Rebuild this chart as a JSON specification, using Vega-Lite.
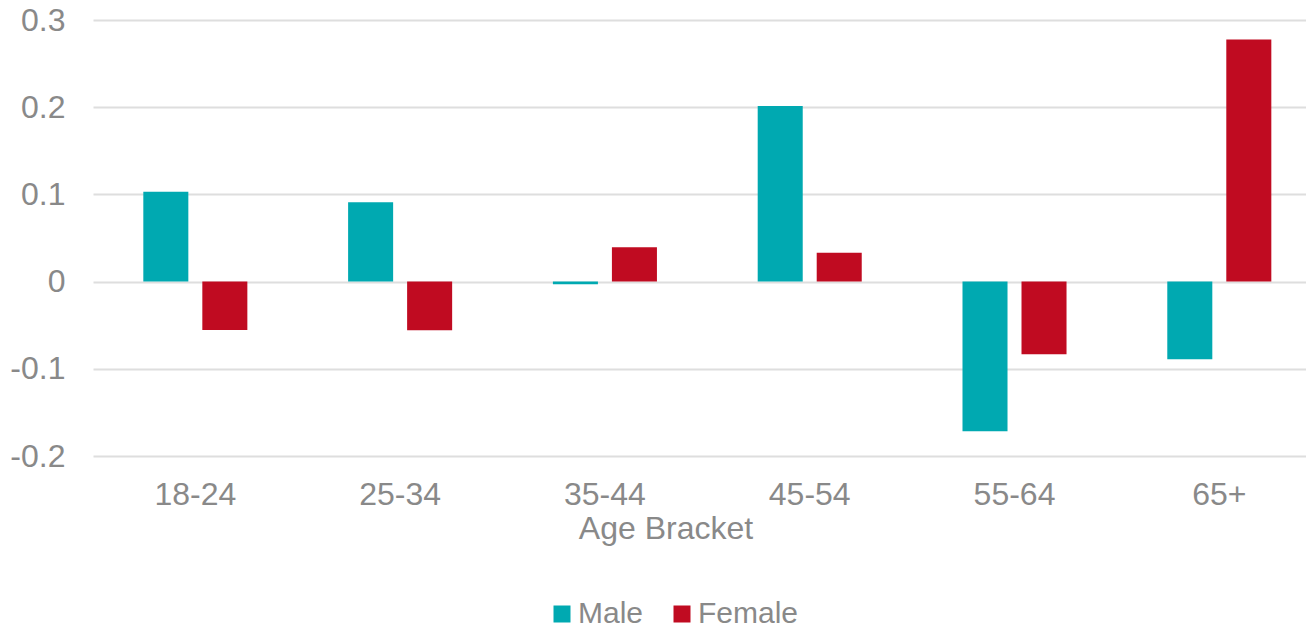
{
  "$schema": "https://vega.github.io/schema/vega-lite/v6.json",
  "width": 1213,
  "height": 436,
  "autosize": "none",
  "padding": {"left": 93, "top": 20, "right": 0, "bottom": 173},
  "background": "white",
  "config": {
    "font": "Liberation Sans",
    "view": {"stroke": null}
  },
  "data": {
    "values": [
      {"age": "18-24", "gender": "Male", "value": 0.103},
      {"age": "18-24", "gender": "Female", "value": -0.0555},
      {"age": "25-34", "gender": "Male", "value": 0.091},
      {"age": "25-34", "gender": "Female", "value": -0.0557},
      {"age": "35-44", "gender": "Male", "value": -0.003},
      {"age": "35-44", "gender": "Female", "value": 0.0395},
      {"age": "45-54", "gender": "Male", "value": 0.2015},
      {"age": "45-54", "gender": "Female", "value": 0.033},
      {"age": "55-64", "gender": "Male", "value": -0.1716},
      {"age": "55-64", "gender": "Female", "value": -0.0833},
      {"age": "65+", "gender": "Male", "value": -0.089},
      {"age": "65+", "gender": "Female", "value": 0.2775}
    ]
  },
  "mark": {"type": "bar"},
  "encoding": {
    "x": {
      "field": "age",
      "type": "nominal",
      "sort": ["18-24", "25-34", "35-44", "45-54", "55-64", "65+"],
      "scale": {"paddingInner": 0.492, "paddingOuter": 0.2075, "align": 0.592, "round": false},
      "axis": {
        "title": "Age Bracket",
        "labelAngle": 0,
        "labelFontSize": 32,
        "labelColor": "#898989",
        "labelPadding": 23,
        "ticks": false,
        "tickSize": 0,
        "domain": false,
        "titleFontSize": 32,
        "titleFontWeight": "normal",
        "titleColor": "#898989",
        "titleX": 572.5,
        "titleY": 82.6,
        "titleAlign": "center",
        "titleBaseline": "alphabetic"
      }
    },
    "xOffset": {
      "field": "gender",
      "type": "nominal",
      "sort": ["Male", "Female"],
      "scale": {"paddingInner": 0.237, "paddingOuter": 0}
    },
    "y": {
      "field": "value",
      "type": "quantitative",
      "scale": {"domain": [-0.2, 0.3], "nice": false, "zero": false},
      "axis": {
        "title": null,
        "values": [-0.2, -0.1, 0, 0.1, 0.2, 0.3],
        "labelExpr": "datum.value < 0 ? '-' + format(-datum.value, '~g') : format(datum.value, '~g')",
        "labelFontSize": 32,
        "labelColor": "#898989",
        "labelPadding": 28,
        "ticks": false,
        "tickSize": 0,
        "domain": false,
        "grid": true,
        "gridColor": "#dedede",
        "gridWidth": 2
      }
    },
    "color": {
      "field": "gender",
      "type": "nominal",
      "sort": ["Male", "Female"],
      "scale": {"domain": ["Male", "Female"], "range": ["#00a9b1", "#c00b21"]},
      "legend": {
        "title": null,
        "orient": "none",
        "direction": "horizontal",
        "legendX": 454,
        "legendY": 579,
        "padding": 0,
        "symbolType": "square",
        "symbolSize": 289,
        "symbolStrokeWidth": 0,
        "labelFontSize": 30,
        "labelColor": "#898989",
        "labelOffset": 1,
        "columnPadding": 23
      }
    }
  }
}
